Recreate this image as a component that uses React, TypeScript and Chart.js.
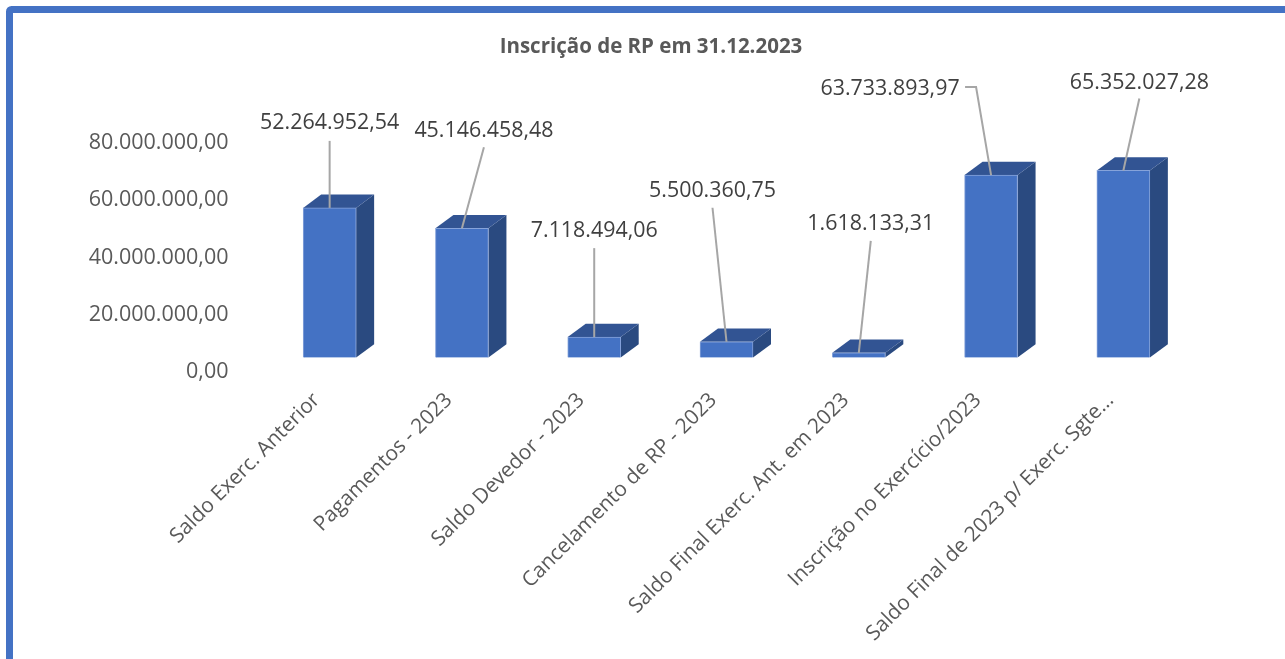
import React, { useEffect, useRef } from "react";
import { Chart, registerables } from "chart.js";

Chart.register(...registerables);

const chartTitle = "Inscrição de RP em 31.12.2023";
const categories = [
  "Saldo Exerc. Anterior",
  "Pagamentos - 2023",
  "Saldo Devedor - 2023",
  "Cancelamento de RP - 2023",
  "Saldo Final Exerc. Ant. em 2023",
  "Inscrição no Exercício/2023",
  "Saldo Final de 2023 p/ Exerc. Sgte...",
];
const values = [52264952.54, 45146458.48, 7118494.06, 5500360.75, 1618133.31, 63733893.97, 65352027.28];

// Leader-line end relative to the bar's top centre, then the label anchor.
const leaderEnd: [number, number][] = [[0, -67], [22, -81], [0, -89], [-14, -134], [12, -112], [-15, -88], [16, -72]];
const labelShift: [number, number][] = [[0, -17.5], [0, -16.5], [0, -17.5], [0, -16.5], [0, -16.5], [-86, 2], [0, -16]];

const FONT = '"Open Sans", sans-serif';
const BLUE = "#4472C4";
const PX_PER_UNIT = 2.8625 / 1e6;
const PLOT_TOP = 143;
const PLOT_BOTTOM = 372;
const BASE_Y = 357.5;
const DEPTH_X = 18;
const DEPTH_Y = 13.3;

const fmt = (v: number) =>
  v.toLocaleString("pt-BR", { minimumFractionDigits: 2, maximumFractionDigits: 2 });

const frame = {
  id: "frame",
  beforeDraw(chart: any) {
    const { ctx } = chart;
    ctx.save();
    ctx.fillStyle = "#fff";
    ctx.fillRect(0, 0, chart.width, chart.height);
    ctx.strokeStyle = BLUE;
    ctx.lineWidth = 7;
    ctx.beginPath();
    ctx.roundRect(9.5, 9.5, chart.width + 100, chart.height + 100, 2);
    ctx.stroke();
    ctx.restore();
  },
};

const poly = (ctx: any, pts: number[][], fill: string) => {
  ctx.fillStyle = fill;
  ctx.beginPath();
  pts.forEach(([x, y], i) => (i ? ctx.lineTo(x, y) : ctx.moveTo(x, y)));
  ctx.closePath();
  ctx.fill();
};

const depth = {
  id: "depth",
  beforeDatasetsDraw(chart: any) {
    const { ctx } = chart;
    ctx.save();
    chart.getDatasetMeta(0).data.forEach((bar: any) => {
      const p = bar.getProps(["x", "y", "base", "width"], true);
      const l = p.x - p.width / 2;
      const r = p.x + p.width / 2;
      poly(ctx, [[r, p.y], [r + DEPTH_X, p.y - DEPTH_Y], [r + DEPTH_X, p.base - DEPTH_Y], [r, p.base]], "#2A4A80");
      poly(ctx, [[l, p.y], [l + DEPTH_X, p.y - DEPTH_Y], [r + DEPTH_X, p.y - DEPTH_Y], [r, p.y]], "#325493");
    });
    ctx.restore();
  },
};

const callouts = {
  id: "callouts",
  afterDatasetsDraw(chart: any) {
    const { ctx } = chart;
    ctx.save();
    ctx.font = `21.4px ${FONT}`;
    ctx.textAlign = "center";
    ctx.textBaseline = "middle";
    chart.getDatasetMeta(0).data.forEach((bar: any, i: number) => {
      const p = bar.getProps(["x", "y"], true);
      const [dx, dy] = leaderEnd[i];
      const ex = p.x + dx;
      const ey = p.y + dy;
      const [lx, ly] = labelShift[i];
      ctx.strokeStyle = "#A6A6A6";
      ctx.lineWidth = 2;
      ctx.beginPath();
      ctx.moveTo(p.x, p.y);
      ctx.lineTo(ex, ey);
      if (lx !== 0) ctx.lineTo(ex - 11, ey);
      ctx.stroke();
      ctx.fillStyle = "#404040";
      ctx.fillText(fmt(values[i]), ex + lx, ey + ly);
    });
    ctx.restore();
  },
};

export default function App() {
  const ref = useRef<HTMLCanvasElement>(null);
  useEffect(() => {
    const chart = new Chart(ref.current as HTMLCanvasElement, {
      type: "bar",
      data: {
        labels: categories,
        datasets: [
          {
            data: values,
            yAxisID: "yBars",
            backgroundColor: BLUE,
            borderColor: "#86A3DA",
            borderWidth: 1,
            barThickness: 53,
          },
        ],
      },
      plugins: [frame, depth, callouts],
      options: {
        responsive: false,
        animation: false,
        layout: { padding: { left: 17 } },
        plugins: {
          legend: { display: false },
          tooltip: { enabled: false },
          title: {
            display: true,
            text: chartTitle,
            color: "#595959",
            font: { family: FONT, size: 20.5, weight: "bold" },
            padding: { top: 34.7, bottom: 83.7 },
          },
        },
        scales: {
          x: {
            grid: { display: false },
            border: { display: false },
            ticks: {
              autoSkip: false,
              minRotation: 45,
              maxRotation: 45,
              padding: 8,
              labelOffset: -13,
              color: "#595959",
              font: { family: FONT, size: 20.8 },
            },
            afterFit(axis: any) {
              axis.height = 659 - PLOT_BOTTOM;
            },
          },
          y: {
            position: "left",
            min: 0,
            max: 80000000,
            grid: { display: false },
            border: { display: false },
            ticks: {
              stepSize: 20000000,
              padding: 27,
              color: "#595959",
              font: { family: FONT, size: 21.5 },
              callback: (v: any) => fmt(Number(v)),
            },
            afterFit(axis: any) {
              axis.width = 246.5;
            },
          },
          yBars: {
            position: "right",
            min: (BASE_Y - PLOT_BOTTOM) / PX_PER_UNIT,
            max: (BASE_Y - PLOT_TOP) / PX_PER_UNIT,
            grid: { display: false },
            border: { display: false },
            ticks: { display: false },
            afterFit(axis: any) {
              axis.width = 95.5;
            },
          },
        },
      },
    } as any);
    return () => chart.destroy();
  }, []);
  return (
    <canvas
      ref={ref}
      width={1285}
      height={659}
      style={{ position: "absolute", left: 0, top: 0, display: "block" }}
    />
  );
}
